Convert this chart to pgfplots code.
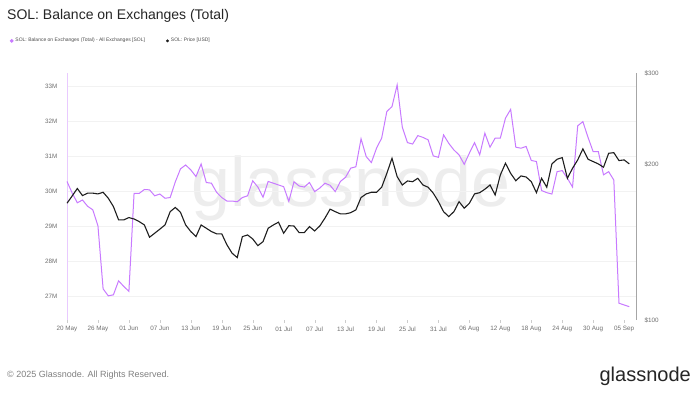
\documentclass[border=0pt]{standalone}
\usepackage{pgfplots}
\usepackage{pgfplotstable}
\pgfplotsset{compat=1.18}
\usepackage{fontspec}
\setmainfont{Liberation Sans}
\definecolor{solpurple}{RGB}{200,122,255}
\definecolor{priceblack}{RGB}{30,30,30}
\definecolor{tickgray}{RGB}{110,110,110}

\pgfplotstableread{
day bal
0 30.29
1 29.96
2 29.68
3 29.76
4 29.58
5 29.48
6 29.02
7 27.22
8 27.02
9 27.05
10 27.45
11 27.29
12 27.15
13 29.95
14 29.95
15 30.06
16 30.05
17 29.88
18 29.93
19 29.81
20 29.83
21 30.28
22 30.65
23 30.76
24 30.62
25 30.43
26 30.79
27 30.26
28 30.24
29 29.98
30 29.83
31 29.73
32 29.73
33 29.71
34 29.83
35 29.88
36 30.31
37 30.13
38 29.84
39 30.29
40 30.24
41 30.19
42 30.14
43 29.72
44 30.28
45 30.16
46 30.13
47 30.26
48 30.00
49 30.10
50 30.24
51 30.18
52 30.00
53 30.29
54 30.41
55 30.67
56 30.71
57 31.51
58 31.00
59 30.83
60 31.24
61 31.53
62 32.29
63 32.43
64 33.05
65 31.84
66 31.40
67 31.36
68 31.60
69 31.55
70 31.48
71 31.02
72 30.98
73 31.62
74 31.38
75 31.19
76 31.05
77 30.78
78 31.10
79 31.40
80 31.05
81 31.67
82 31.27
83 31.53
84 31.53
85 32.10
86 32.35
87 31.27
88 31.24
89 31.29
90 30.89
91 30.86
92 30.03
93 29.97
94 29.93
95 30.57
96 30.60
97 30.38
98 30.13
99 31.88
100 32.00
101 31.55
102 31.14
103 31.14
104 30.48
105 30.57
106 30.33
107 26.81
108 26.76
109 26.71
}\balancetable

\pgfplotstableread{
day price
0 168.1
1 173.6
2 179.5
3 173.9
4 175.8
5 175.8
6 175.2
7 176.5
8 171.9
9 165.6
10 156.1
11 156.1
12 157.7
13 156.7
14 154.9
15 152.6
16 144.5
17 147.1
18 149.8
19 152.6
20 161.9
21 165.0
22 161.4
23 152.6
24 148.2
25 144.9
26 152.6
27 150.4
28 148.2
29 146.7
30 146.7
31 139.7
32 134.6
33 132.0
34 144.9
35 146.0
36 143.4
37 139.2
38 141.7
39 150.4
40 152.6
41 154.5
42 147.1
43 152.1
44 151.9
45 147.5
46 147.5
47 151.5
48 148.6
49 151.9
50 157.3
51 163.7
52 161.9
53 160.3
54 160.3
55 161.2
56 163.2
57 172.4
58 175.2
59 176.5
60 176.5
61 180.5
62 192.0
63 205.3
64 189.2
65 182.3
66 185.6
67 185.0
68 187.8
69 182.3
70 180.5
71 175.8
72 169.3
73 161.9
74 158.4
75 161.9
76 169.3
77 164.4
78 168.1
79 175.2
80 176.2
81 178.9
82 182.3
83 174.4
84 190.6
85 200.8
86 192.0
87 185.8
88 189.8
89 188.9
90 185.0
91 176.2
92 187.8
93 180.5
94 200.2
95 204.4
96 205.9
97 187.8
98 196.4
99 203.8
100 214.0
101 204.4
102 202.3
103 200.2
104 197.3
105 209.9
106 210.5
107 203.2
108 203.8
109 200.2
}\pricetable

\begin{document}
\begin{tikzpicture}
\path[use as bounding box, fill=white] (0pt,0pt) rectangle (699pt,396pt);
% watermark
\node[font=\fontsize{70}{74}\selectfont, text=black!7] at (351pt,208pt) {glassnode};
% title
\node[anchor=west, inner sep=0pt, font=\fontsize{14}{16}\selectfont, text=black!85] at (7pt,380pt) {SOL: Balance on Exchanges (Total)};
% footer
\node[anchor=west, inner sep=0pt, font=\fontsize{9}{11}\selectfont, text=black!50] at (7pt,21pt) {\textcopyright{} 2025 Glassnode. All Rights Reserved.};
\node[anchor=east, inner sep=0pt, font=\fontsize{20}{23}\selectfont, text=black!85] at (691pt,20pt) {glassnode};

\begin{axis}[
  at={(67pt,76pt)}, anchor=south west,
  scale only axis, width=569pt, height=247pt,
  xmin=0, xmax=110.3,
  ymin=26.33, ymax=33.39,
  axis lines*=left,
  x axis line style={draw=none},
  y axis line style={draw=solpurple!40, line width=0.8pt},
  xtick={0,6,...,108},
  xticklabels={20 May,26 May,01 Jun,07 Jun,13 Jun,19 Jun,25 Jun,01 Jul,07 Jul,13 Jul,19 Jul,25 Jul,31 Jul,06 Aug,12 Aug,18 Aug,24 Aug,30 Aug,05 Sep},
  ytick={27,28,29,30,31,32,33},
  yticklabels={27M,28M,29M,30M,31M,32M,33M},
  tick label style={font=\fontsize{6.3}{7}\selectfont, text=tickgray},
  /pgf/number format/assume math mode=true,
  xtick style={draw=black!20},
  ytick style={draw=none},
  major tick length=3pt,
  tick align=outside,
  ymajorgrids,
  grid style={draw=black!5, line width=0.6pt},
  yticklabel style={xshift=-3pt},
  clip=false,
  legend style={draw=none, fill=none, font=\fontsize{5}{6}\selectfont, text=black!70,
    at={(-0.106,1.13)}, anchor=west, legend columns=2,
    /tikz/every even column/.append style={column sep=19pt}},
  legend image code/.code={\fill[#1] (0pt,0pt) circle (1.3pt);},
]
\addplot[solpurple, line width=1pt, no markers] table[x=day, y=bal] {\balancetable};
\addlegendentry{SOL: Balance on Exchanges (Total) - All Exchanges [SOL]}
\addlegendimage{priceblack, fill=priceblack}
\addlegendentry{SOL: Price [USD]}
\end{axis}

\begin{axis}[
  at={(67pt,76pt)}, anchor=south west,
  scale only axis, width=569pt, height=247pt,
  xmin=0, xmax=110.3,
  ymode=log, ymin=100, ymax=300,
  axis x line=none,
  axis y line*=right,
  y axis line style={draw=black!35, line width=0.9pt},
  ytick={100,200,300},
  yticklabels={\$100,\$200,\$300},
  yticklabel style={font=\fontsize{6.3}{7}\selectfont, text=tickgray, xshift=5pt},
  ytick style={draw=none},
  minor ytick={},
  clip=false,
]
\addplot[priceblack, line width=1.1pt, no markers] table[x=day, y=price] {\pricetable};
\end{axis}
\end{tikzpicture}
\end{document}
